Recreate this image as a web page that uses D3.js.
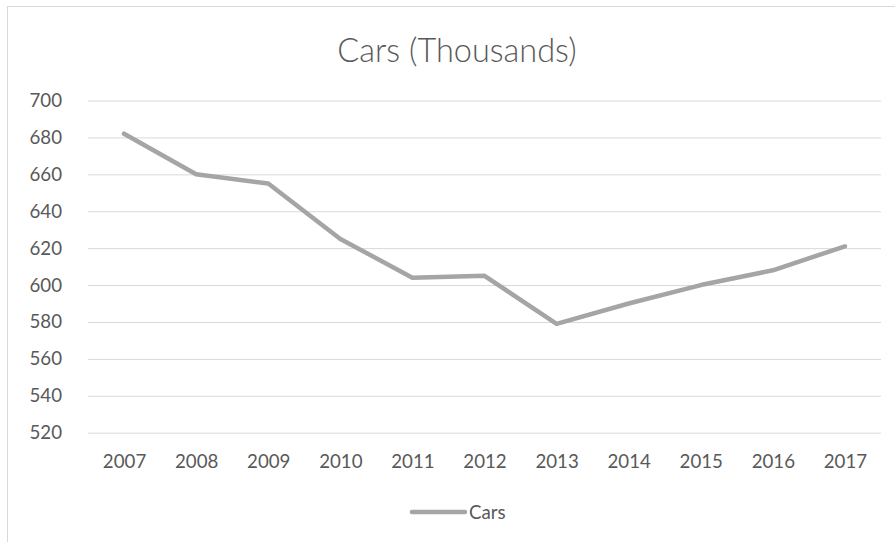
<!DOCTYPE html>
<html>
<head>
<meta charset="utf-8">
<script src="https://cdn.jsdelivr.net/npm/d3@7"></script>
<style>
  html, body { margin: 0; padding: 0; background: #ffffff; }
  svg { display: block; }
  text { font-family: Lato, "Open Sans", sans-serif; fill: #595959; }
</style>
</head>
<body>
<svg id="chart" width="895" height="542"></svg>
<script>
// Car counts per year, in thousands
const years = ["2007", "2008", "2009", "2010", "2011", "2012", "2013", "2014", "2015", "2016", "2017"];
const cars = [682, 660, 655, 625, 604, 605, 579, 590, 600, 608, 621];
const yTicks = [520, 540, 560, 580, 600, 620, 640, 660, 680, 700];
const seriesName = "Cars";
const chartTitle = "Cars (Thousands)";

const svg = d3.select("#chart");
const W = 895, H = 542;
const plot = { left: 88, right: 881, top: 100.5, bottom: 432.7 };

// Chart area frame (extends past the right and bottom edges)
svg.append("rect")
  .attr("x", 7.5).attr("y", 6.5)
  .attr("width", W + 20).attr("height", H + 20)
  .attr("fill", "#ffffff")
  .attr("stroke", "#d9d9d9").attr("stroke-width", 1);

const x = d3.scalePoint()
  .domain(years)
  .range([plot.left, plot.right])
  .padding(0.5);

const y = d3.scaleLinear()
  .domain([520, 700])
  .range([plot.bottom, plot.top]);

// Horizontal gridlines and value labels
const yAxis = svg.append("g")
  .attr("transform", `translate(${plot.left},0)`)
  .call(d3.axisLeft(y)
    .tickValues(yTicks)
    .tickSize(-(plot.right - plot.left))
    .tickPadding(26)
    .tickFormat(d3.format("d")));
yAxis.select(".domain").remove();
yAxis.selectAll(".tick line").attr("stroke", "#d9d9d9").attr("stroke-width", 1);
yAxis.selectAll(".tick text")
  .style("font-size", "18.7px")
  .style("fill", "#595959");

// Year labels along the bottom
const xAxis = svg.append("g")
  .attr("transform", `translate(0,${plot.bottom})`)
  .call(d3.axisBottom(x).tickSize(0).tickPadding(22));
xAxis.select(".domain").remove();
xAxis.selectAll(".tick text")
  .style("font-size", "18.7px")
  .style("fill", "#595959");

// Series line
const line = d3.line()
  .x((d, i) => x(years[i]))
  .y(d => y(d));

svg.append("path")
  .datum(cars)
  .attr("d", line)
  .attr("fill", "none")
  .attr("stroke", "#a5a5a5")
  .attr("stroke-width", 4.5)
  .attr("stroke-linejoin", "round")
  .attr("stroke-linecap", "round");

// Title
svg.append("text")
  .attr("x", 457).attr("y", 61.5)
  .attr("text-anchor", "middle")
  .style("font-size", "32.5px")
  .style("font-weight", "300")
  .text(chartTitle);

// Legend
const legend = svg.append("g").attr("transform", "translate(0,512)");
legend.append("line")
  .attr("x1", 412).attr("x2", 465)
  .attr("y1", 0).attr("y2", 0)
  .attr("stroke", "#a5a5a5")
  .attr("stroke-width", 4.5)
  .attr("stroke-linecap", "round");
legend.append("text")
  .attr("x", 469).attr("y", 7)
  .style("font-size", "18.7px")
  .text(seriesName);
</script>
</body>
</html>
